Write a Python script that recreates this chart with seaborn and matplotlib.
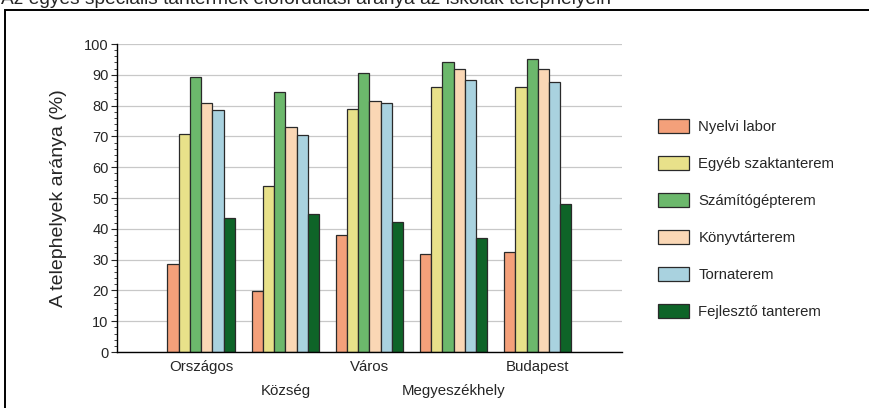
import matplotlib
matplotlib.use('Agg')
import matplotlib.pyplot as plt
from matplotlib.patches import Rectangle
from matplotlib.ticker import MultipleLocator
import seaborn as sns
import pandas as pd

# ── adatok ───────────────────────────────────────────────
categories = ['Országos', 'Község', 'Város', 'Megyeszékhely', 'Budapest']
rooms = ['Nyelvi labor', 'Egyéb szaktanterem', 'Számítógépterem',
         'Könyvtárterem', 'Tornaterem', 'Fejlesztő tanterem']
nyelvi = [28.6, 19.7, 38.0, 31.8, 32.4]
egyeb = [70.9, 53.9, 79.0, 86.1, 86.1]
szamito = [89.2, 84.5, 90.6, 94.2, 95.2]
konyvtar = [80.9, 73.2, 81.6, 92.0, 92.0]
torna = [78.7, 70.3, 80.9, 88.4, 87.7]
fejleszto = [43.5, 44.8, 42.2, 37.0, 48.2]
COLORS = ['#F4A07A', '#E8E18A', '#6CB86C', '#FAD7B5', '#A9D2DF', '#0E6428']

series = [nyelvi, egyeb, szamito, konyvtar, torna, fejleszto]
df = pd.DataFrame([(c, r, v[i]) for r, v in zip(rooms, series)
                   for i, c in enumerate(categories)],
                  columns=['hely', 'terem', 'arany'])

sns.set_style('white')
plt.rcParams['font.family'] = ['Liberation Sans', 'DejaVu Sans']

fig = plt.figure(figsize=(8.7, 4.08), dpi=100)
ax = fig.add_axes([117/870, 1 - 352/408, 505/870, 308/408])

sns.barplot(data=df, x='hely', y='arany', hue='terem', order=categories,
            hue_order=rooms, palette=COLORS, width=0.8, ax=ax,
            edgecolor='#2a2a2a', linewidth=0.9, saturation=1, legend=True)

ax.set_xlim(-1, 5)
ax.set_ylim(0, 100)
ax.yaxis.set_major_locator(MultipleLocator(10))
ax.yaxis.set_minor_locator(MultipleLocator(2))
ax.grid(axis='y', which='major', color='#c8c8c8', linewidth=0.9)
ax.set_axisbelow(True)
ax.tick_params(axis='y', which='major', length=4, width=0.8, labelsize=10.5,
               left=True, pad=2)
ax.tick_params(axis='y', which='minor', length=2.5, width=0.6, left=True)
ax.tick_params(axis='x', length=0, labelsize=10.8, pad=6)
for s in ['top', 'right']:
    ax.spines[s].set_visible(False)
for s in ['left', 'bottom']:
    ax.spines[s].set_color('black')
    ax.spines[s].set_linewidth(1.0)

ax.set_xticks(range(len(categories)))
ax.set_xticklabels([c if i % 2 == 0 else '\n' + c
                    for i, c in enumerate(categories)], linespacing=1.85)
ax.set_xlabel('')
ax.set_ylabel('A telephelyek aránya (%)', fontsize=14, labelpad=12)

leg = ax.legend(loc='upper left', bbox_to_anchor=(1.06, 0.775), frameon=False,
                fontsize=10.7, handlelength=2.1, handleheight=1.0,
                labelspacing=1.5, handletextpad=0.6, borderaxespad=0)

# keret és levágott cím
fig.patches.append(Rectangle((5/870, -0.1), 1.2, 1.1 - 10/408,
                             transform=fig.transFigure, fill=False,
                             edgecolor='black', linewidth=1.4))
fig.text(1/870, 1 - 4/408,
         'Az egyes speciális tantermek előfordulási aránya az iskolák telephelyein',
         fontsize=13.8, ha='left', va='baseline')

fig.savefig('out.png', dpi=100)
